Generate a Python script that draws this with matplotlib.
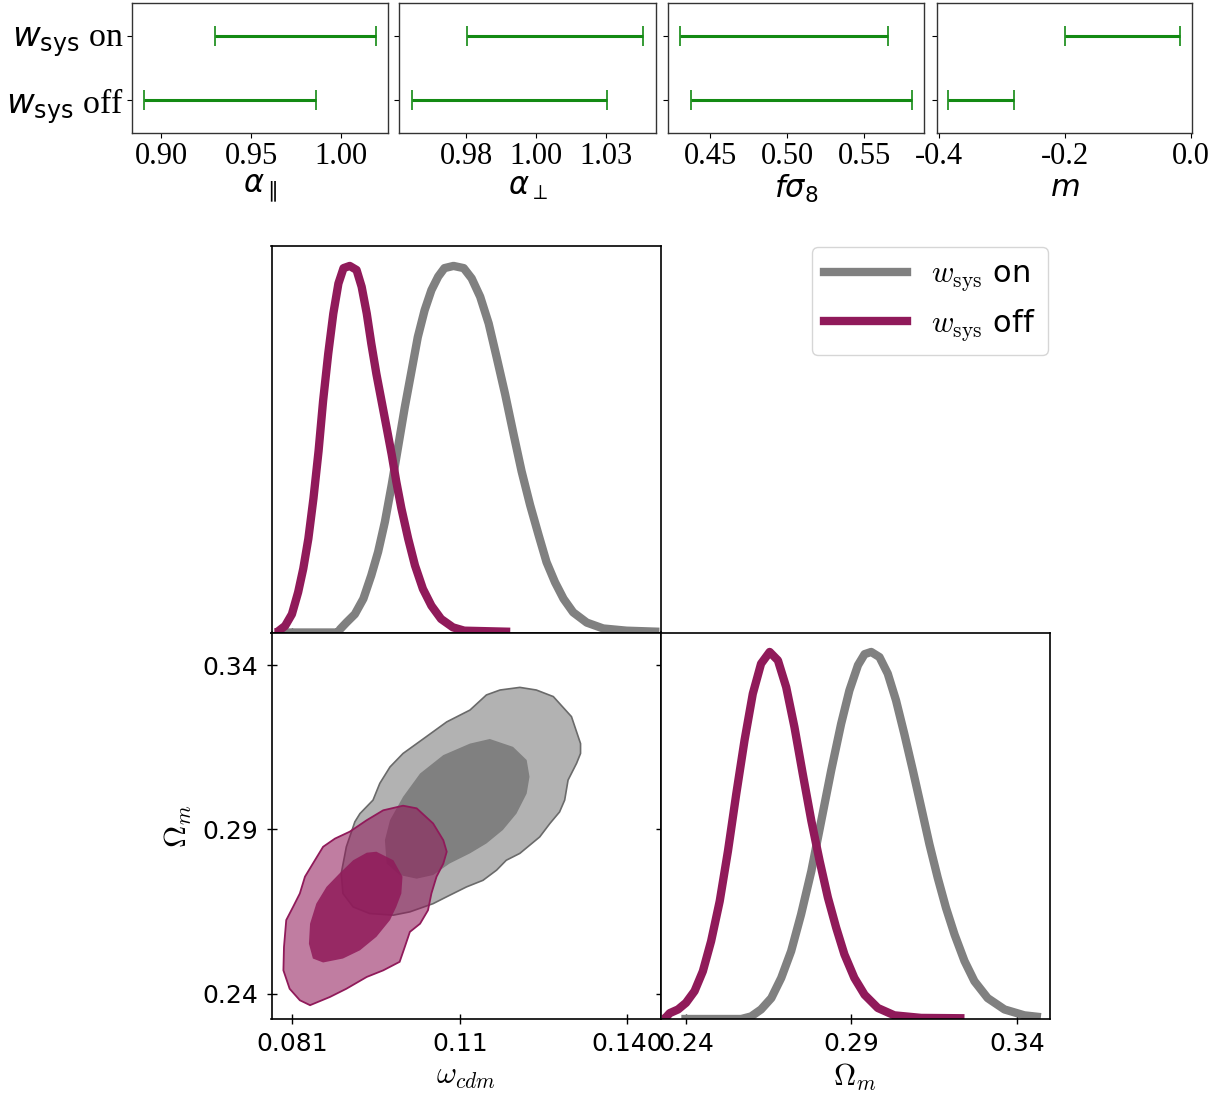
import matplotlib
matplotlib.use('Agg')
import matplotlib.pyplot as plt
from matplotlib.lines import Line2D
from matplotlib.font_manager import FontProperties

# ---------------- data ----------------
rows = ['on', 'off']
row_labels = [r'$w_{\mathrm{sys}}$ on', r'$w_{\mathrm{sys}}$ off']
row_pos = [1, 0]

alpha_par_lo = [0.930, 0.8906]
alpha_par_hi = [1.0195, 0.986]
alpha_perp_lo = [0.9804, 0.9607]
alpha_perp_hi = [1.0436, 1.0307]
fs8_lo = [0.4305, 0.4377]
fs8_hi = [0.5656, 0.5812]
m_lo = [-0.200, -0.3857]
m_hi = [-0.0175, -0.281]

# 1D posterior of omega_cdm (normalised)
wcdm_on_x = [0.0780, 0.0890, 0.0894, 0.0905, 0.0920, 0.0935, 0.0949, 0.0961, 0.0973, 0.0985,
             0.0996, 0.1008, 0.1020, 0.1031, 0.1043, 0.1055, 0.1067, 0.1078, 0.1094, 0.1112,
             0.1126, 0.1141, 0.1156, 0.1170, 0.1185, 0.1200, 0.1214, 0.1229, 0.1244, 0.1258,
             0.1273, 0.1288, 0.1305, 0.1329, 0.1358, 0.1399, 0.1457]
wcdm_on_y = [0.0, 0.0, 0.009, 0.027, 0.050, 0.092, 0.156, 0.220, 0.302, 0.403,
             0.504, 0.614, 0.714, 0.806, 0.879, 0.934, 0.971, 0.994, 1.0, 0.994,
             0.966, 0.916, 0.843, 0.751, 0.650, 0.540, 0.440, 0.348, 0.266, 0.192,
             0.137, 0.092, 0.055, 0.027, 0.011, 0.005, 0.002]
wcdm_off_x = [0.0778, 0.0782, 0.0797, 0.0809, 0.0820, 0.0829, 0.0838, 0.0847, 0.0856, 0.0864,
              0.0873, 0.0882, 0.0891, 0.0900, 0.0911, 0.0923, 0.0932, 0.0941, 0.0949, 0.0958,
              0.0967, 0.0976, 0.0985, 0.0993, 0.1002, 0.1014, 0.1026, 0.1040, 0.1055, 0.1072,
              0.1093, 0.1113, 0.1194]
wcdm_off_y = [0.0, 0.0, 0.018, 0.050, 0.110, 0.174, 0.256, 0.366, 0.495, 0.632,
              0.760, 0.870, 0.952, 0.994, 1.0, 0.989, 0.943, 0.870, 0.788, 0.705,
              0.632, 0.559, 0.485, 0.412, 0.339, 0.256, 0.183, 0.119, 0.073, 0.037,
              0.014, 0.005, 0.002]

# 1D posterior of Omega_m (normalised)
om_on_x = [0.2386, 0.2567, 0.2597, 0.2627, 0.2658, 0.2688, 0.2718, 0.2748, 0.2779, 0.2809,
           0.2839, 0.2869, 0.2894, 0.2920, 0.2940, 0.2960, 0.2985, 0.3010, 0.3035, 0.3060,
           0.3086, 0.3111, 0.3136, 0.3161, 0.3186, 0.3212, 0.3242, 0.3272, 0.3312, 0.3363,
           0.3423, 0.3473]
om_on_y = [0.0, 0.0, 0.007, 0.026, 0.057, 0.112, 0.185, 0.285, 0.403, 0.540,
           0.677, 0.804, 0.895, 0.964, 0.994, 1.0, 0.986, 0.941, 0.868, 0.777,
           0.677, 0.577, 0.476, 0.385, 0.303, 0.230, 0.158, 0.103, 0.057, 0.026,
           0.010, 0.005]
om_off_x = [0.2327, 0.2335, 0.2351, 0.2376, 0.2400, 0.2426, 0.2451, 0.2476, 0.2502, 0.2527,
            0.2552, 0.2577, 0.2602, 0.2627, 0.2653, 0.2678, 0.2703, 0.2728, 0.2753, 0.2779,
            0.2804, 0.2829, 0.2854, 0.2879, 0.2909, 0.2940, 0.2980, 0.3030, 0.3111, 0.3242]
om_off_y = [0.0, 0.0, 0.016, 0.026, 0.044, 0.076, 0.130, 0.212, 0.321, 0.458,
            0.613, 0.759, 0.886, 0.968, 1.0, 0.977, 0.904, 0.795, 0.668, 0.540,
            0.431, 0.331, 0.249, 0.176, 0.112, 0.066, 0.030, 0.010, 0.003, 0.002]

# 2D contours (omega_cdm, Omega_m)
on95_x = [0.1211, 0.1240, 0.1270, 0.1302, 0.1318, 0.1318, 0.1311, 0.1296, 0.1290, 0.1281,
          0.1264, 0.1246, 0.1211, 0.1187, 0.1170, 0.1146, 0.1117, 0.1082, 0.1058, 0.1017,
          0.0988, 0.0946, 0.0917, 0.0899, 0.0896, 0.0905, 0.0920, 0.0929, 0.0952, 0.0964,
          0.0982, 0.1005, 0.1046, 0.1082, 0.1123, 0.1152, 0.1176]
on95_y = [0.3332, 0.3324, 0.3304, 0.3243, 0.3161, 0.3131, 0.3101, 0.3050, 0.2989, 0.2953,
          0.2918, 0.2877, 0.2827, 0.2806, 0.2776, 0.2745, 0.2725, 0.2695, 0.2674, 0.2649,
          0.2639, 0.2644, 0.2664, 0.2705, 0.2766, 0.2847, 0.2923, 0.2948, 0.2989, 0.3040,
          0.3090, 0.3131, 0.3182, 0.3227, 0.3263, 0.3309, 0.3324]
on68_x = [0.1158, 0.1199, 0.1223, 0.1228, 0.1223, 0.1205, 0.1181, 0.1152, 0.1123, 0.1087,
          0.1058, 0.1029, 0.0999, 0.0976, 0.0973, 0.0982, 0.1005, 0.1035, 0.1076, 0.1123]
on68_y = [0.3175, 0.3151, 0.3111, 0.3060, 0.3009, 0.2948, 0.2898, 0.2857, 0.2827, 0.2796,
          0.2761, 0.2750, 0.2761, 0.2796, 0.2867, 0.2928, 0.2999, 0.3070, 0.3126, 0.3161]
off95_x = [0.1005, 0.1029, 0.1058, 0.1076, 0.1082, 0.1076, 0.1064, 0.1055, 0.1049, 0.1035,
           0.1017, 0.1008, 0.0999, 0.0970, 0.0941, 0.0905, 0.0876, 0.0841, 0.0823, 0.0805,
           0.0794, 0.0795, 0.0799, 0.0811, 0.0823, 0.0832, 0.0846, 0.0864, 0.0885, 0.0911,
           0.0941, 0.0970]
off95_y = [0.2972, 0.2964, 0.2918, 0.2867, 0.2832, 0.2796, 0.2756, 0.2705, 0.2654, 0.2613,
           0.2588, 0.2542, 0.2497, 0.2471, 0.2451, 0.2415, 0.2390, 0.2365, 0.2380, 0.2415,
           0.2471, 0.2542, 0.2624, 0.2664, 0.2705, 0.2756, 0.2796, 0.2847, 0.2872, 0.2893,
           0.2928, 0.2958]
off68_x = [0.0958, 0.0988, 0.1004, 0.1002, 0.0993, 0.0982, 0.0958, 0.0929, 0.0899, 0.0864,
           0.0846, 0.0839, 0.0841, 0.0852, 0.0870, 0.0893, 0.0917, 0.0941]
off68_y = [0.2832, 0.2806, 0.2756, 0.2705, 0.2664, 0.2624, 0.2573, 0.2532, 0.2507, 0.2495,
           0.2507, 0.2552, 0.2613, 0.2674, 0.2725, 0.2766, 0.2806, 0.2829]

legend_labels = [r'$w_{\rm sys}$ on', r'$w_{\rm sys}$ off']

# ---------------- style ----------------
GRAY = '#808080'
PURPLE = '#901a5a'
GREEN = '#138a13'

W, H = 1223, 1102
fig = plt.figure(figsize=(W / 100, H / 100), dpi=100)


def rect(l, t, r, b):
    return [l / W, 1 - b / H, (r - l) / W, (b - t) / H]


serif = FontProperties(family='Liberation Serif', size=22, math_fontfamily='dejavusans')
serif_y = FontProperties(family='Liberation Serif', size=24.5, math_fontfamily='dejavusans')

# ---------------- top row ----------------
top_panels = [
    ((132.3, 3.3, 387.7, 133.3), alpha_par_lo, alpha_par_hi, (0.884, 1.026),
     [0.90, 0.95, 1.00], ['0.90', '0.95', '1.00'], r'$\alpha_\parallel$'),
    ((399.3, 3.3, 655.7, 133.3), alpha_perp_lo, alpha_perp_hi, (0.956, 1.048),
     [0.98, 1.005, 1.03], ['0.98', '1.00', '1.03'], r'$\alpha_\perp$'),
    ((668.3, 3.3, 924.3, 133.3), fs8_lo, fs8_hi, (0.4227, 0.589),
     [0.45, 0.50, 0.55], ['0.45', '0.50', '0.55'], r'$f\sigma_8$'),
    ((936.7, 3.3, 1192.3, 133.3), m_lo, m_hi, (-0.403, 0.002),
     [-0.4, -0.2, 0.0], ['-0.4', '-0.2', '0.0'], r'$m$'),
]
for i, (r, lo, hi, xl, ticks, tlabels, xlabel) in enumerate(top_panels):
    ax = fig.add_axes(rect(*r))
    centers = [(a + b) / 2 for a, b in zip(lo, hi)]
    half = [(b - a) / 2 for a, b in zip(lo, hi)]
    ax.errorbar(centers, row_pos, xerr=half, fmt='none', ecolor=GREEN,
                elinewidth=2.2, capsize=7.5, capthick=1.2)
    ax.set_xlim(*xl)
    ax.set_ylim(-0.52, 1.51)
    ax.set_xticks(ticks)
    ax.set_xticklabels(tlabels, fontproperties=serif)
    ax.set_yticks(row_pos)
    if i == 0:
        ax.set_yticklabels(row_labels, fontproperties=serif_y)
    else:
        ax.set_yticklabels([])
    ax.tick_params(length=3.5, width=0.8, pad=3)
    ax.set_xlabel(xlabel, fontsize=22, math_fontfamily='dejavusans', labelpad=1)
    for s in ax.spines.values():
        s.set_linewidth(1.0)
        s.set_color('#333333')

# ---------------- triangle ----------------
ax_t = fig.add_axes(rect(271.5, 246.5, 660.5, 632.5))
ax_2d = fig.add_axes(rect(271.5, 632.5, 660.5, 1019))
ax_r = fig.add_axes(rect(660.5, 632.5, 1049.5, 1019))

wlim = (0.0773, 0.1459)
olim = (0.2323, 0.3499)
wticks = [0.081, 0.1105, 0.140]
wtlabels = ['0.081', '0.11', '0.140']
oticks = [0.24, 0.29, 0.34]
otlabels = ['0.24', '0.29', '0.34']

LW = 6
kw = dict(lw=LW, solid_capstyle='butt', solid_joinstyle='round')
ax_t.plot(wcdm_on_x, wcdm_on_y, color=GRAY, **kw)
ax_t.plot(wcdm_off_x, wcdm_off_y, color=PURPLE, **kw)
ax_t.set_xlim(*wlim)
ax_t.set_ylim(0, 1.053)
ax_t.set_xticks(wticks)
ax_t.set_xticklabels([])
ax_t.set_yticks([])

ax_r.plot(om_on_x, om_on_y, color=GRAY, **kw)
ax_r.plot(om_off_x, om_off_y, color=PURPLE, **kw)
ax_r.set_xlim(*olim)
ax_r.set_ylim(0, 1.053)
ax_r.set_xticks(oticks)
ax_r.set_xticklabels(otlabels)
ax_r.set_yticks([])

# 2D contours
ax_2d.fill(on95_x, on95_y, facecolor=GRAY, alpha=0.6, edgecolor='none', zorder=1)
ax_2d.fill(on95_x, on95_y, facecolor='none', edgecolor='#6a6a6a', lw=1.2, zorder=1.1)
ax_2d.fill(on68_x, on68_y, facecolor=GRAY, edgecolor='none', zorder=1.2)
ax_2d.fill(off95_x, off95_y, facecolor=PURPLE, alpha=0.57, edgecolor='none', zorder=2)
ax_2d.fill(off95_x, off95_y, facecolor='none', edgecolor=PURPLE, lw=1.3, zorder=2.1)
ax_2d.fill(off68_x, off68_y, facecolor=PURPLE, alpha=0.85, edgecolor='none', zorder=2.2)
ax_2d.set_xlim(*wlim)
ax_2d.set_ylim(*olim)
ax_2d.set_xticks(wticks)
ax_2d.set_xticklabels(wtlabels)
ax_2d.set_yticks(oticks)
ax_2d.set_yticklabels(otlabels)
ax_2d.tick_params(axis='y', right=True)

tick_font = 18
for ax in (ax_t, ax_2d, ax_r):
    ax.tick_params(direction='inout', length=7, width=1.0, labelsize=tick_font, pad=6)
    for s in ax.spines.values():
        s.set_linewidth(1.2)
        s.set_color('black')
    for lab in ax.get_xticklabels() + ax.get_yticklabels():
        lab.set_family('DejaVu Sans')

ax_2d.set_xlabel(r'$\omega_{cdm}$', fontsize=22, math_fontfamily='cm', labelpad=4)
ax_2d.set_ylabel(r'$\Omega_m$', fontsize=22, math_fontfamily='cm', labelpad=6)
ax_r.set_xlabel(r'$\Omega_m$', fontsize=22, math_fontfamily='cm', labelpad=4)

# legend
handles = [Line2D([], [], color=GRAY, lw=6), Line2D([], [], color=PURPLE, lw=6)]
leg_font = FontProperties(family='DejaVu Sans', size=22, math_fontfamily='cm')
fig.legend(handles, legend_labels, loc='upper right',
           bbox_to_anchor=(1048 / W, 1 - 247 / H), borderaxespad=0,
           prop=leg_font, handlelength=2.7, handletextpad=0.8,
           labelspacing=0.45, borderpad=0.4, frameon=True, fancybox=True,
           edgecolor='#cccccc')

fig.savefig('out.png', dpi=100)
